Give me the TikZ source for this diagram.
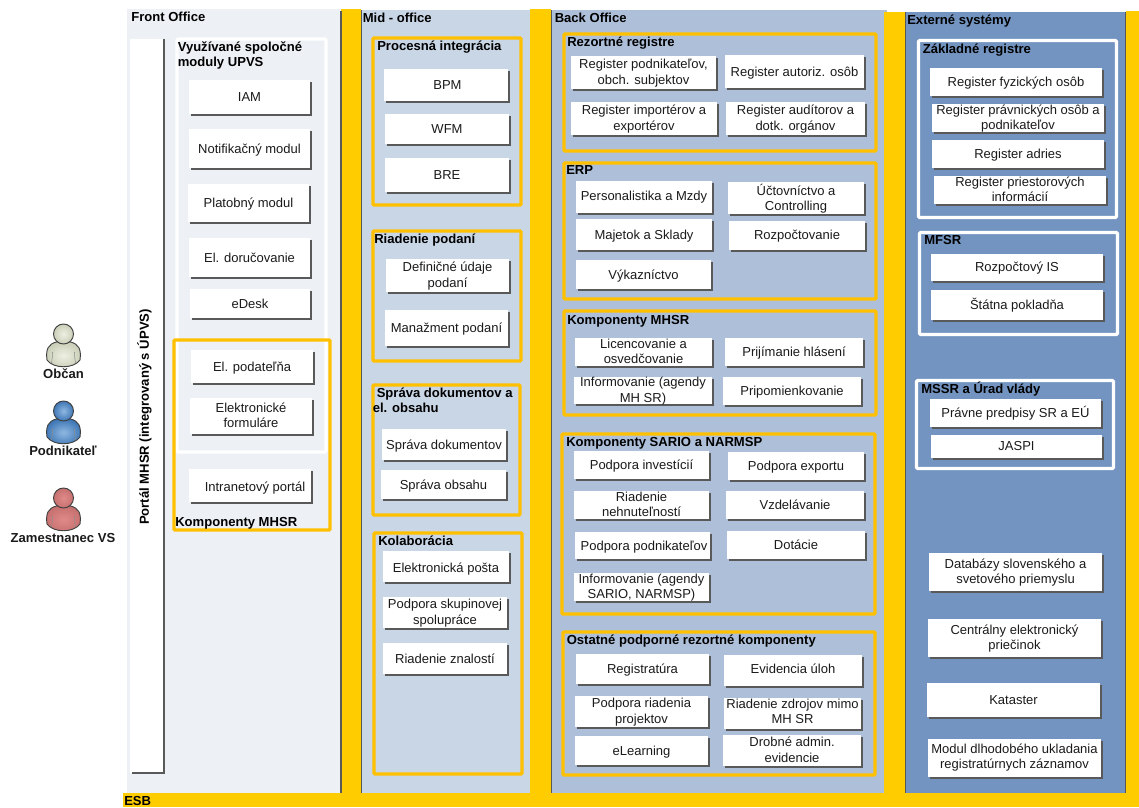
\documentclass[tikz,border=0pt]{standalone}
\usepackage{fontspec}
\setmainfont{Liberation Sans}
\definecolor{pfront}{HTML}{EDF0F5}
\definecolor{pmid}{HTML}{C9D6E6}
\definecolor{pback}{HTML}{AEC0D9}
\definecolor{pext}{HTML}{7394C0}
\definecolor{barcol}{HTML}{FFCC00}
\definecolor{yframe}{HTML}{FFC000}
\definecolor{shad}{HTML}{595959}
\definecolor{inktxt}{HTML}{1A1A1A}
\definecolor{obcin}{HTML}{EEF0E2}
\definecolor{obcout}{HTML}{C9CFB8}
\definecolor{podin}{HTML}{8FB8E2}
\definecolor{podout}{HTML}{3F77B5}
\definecolor{zamin}{HTML}{E08A8A}
\definecolor{zamout}{HTML}{C77070}
\tikzset{
  sepline/.style={shad,line width=1.1pt},
  frameY/.style={draw=yframe,line width=2.6pt,rounded corners=0.8pt},
  frameW/.style={draw=white,line width=2.3pt,rounded corners=0.8pt},
  boxst/.style={fill=white,draw=none,inner sep=0pt,outer sep=0pt},
  boxshadow/.style={shad,line width=1.2pt},
  boxtxt/.style={inner sep=0pt,align=center,text=inktxt,font=\fontsize{9.75pt}{11.6pt}\selectfont,execute at begin node=\strut,execute at end node=\strut},
  ttl/.style={inner sep=0pt,align=left,anchor=west,yshift=-1.4pt,text=black,font=\fontsize{9.8pt}{11.3pt}\selectfont\bfseries,execute at begin node=\strut,execute at end node=\strut},
  actorlbl/.style={inner sep=0pt,yshift=-1.1pt,text=inktxt,font=\fontsize{9.8pt}{11.3pt}\selectfont\bfseries,execute at begin node=\strut,execute at end node=\strut}
}
% \bx[dx,dy]{name}{x0}{y0}{x1}{y1}{text}
\newcommand{\bx}[7][0,0]{%
  \node[boxst,minimum width={(#5-#3)*0.75pt},minimum height={(#6-#4)*0.75pt}] (#2) at ({(#3+#5)/2},{(#4+#6)/2}) {};
  \draw[boxshadow] ([xshift=1.5pt,yshift=-0.6pt]#2.south west) -- ([xshift=0.6pt,yshift=-0.6pt]#2.south east) -- ([xshift=0.6pt,yshift=-1.5pt]#2.north east);
  \node[boxtxt] (#2-t) at ([shift={(#1)},yshift=-1.1pt]#2.center) {#7};
}
% \person{cx}{cy}{light}{mid}
\newcommand{\person}[4]{%
  \begin{scope}[shift={(#1,#2)}]
    \path[draw=black!75,line width=0.7pt,inner color=#3,outer color=#4]
      (-16.5,26) .. controls (-18,15) and (-15,10) .. (-7,8) -- (7,8) .. controls (15,10) and (18,15) .. (16.5,26) .. controls (10,35) and (-10,35) .. (-16.5,26) -- cycle;
    \draw[black!45,line width=0.4pt] (-11,18) .. controls (-11,22) .. (-12,29);
    \draw[black!45,line width=0.4pt] (11,18) .. controls (11,22) .. (12,29);
    \path[draw=black!75,line width=0.7pt,inner color=#3,outer color=#4] (0,0) circle [radius=10];
  \end{scope}
}
\begin{document}
\begin{tikzpicture}[x=0.75pt,y=-0.75pt]
\useasboundingbox (0,0) rectangle (1139,807);
% panels
\fill[pfront] (127,9) rectangle (341,793);
\fill[pmid] (361,10) rectangle (530,793);
\fill[pback] (551,10) rectangle (887,793);
\fill[pext] (905,12) rectangle (1126,793);
% yellow columns
\fill[barcol] (341,9) rectangle (361,793);
\fill[barcol] (530,9) rectangle (551,793);
\fill[barcol] (884,12) rectangle (905,793);
\fill[barcol] (1126,11) rectangle (1139,793);
\fill[barcol] (123,793) rectangle (1139,807);
% separator lines
\draw[sepline] (341,11) -- (341,793);
\draw[shad,line width=0.6pt] (361.3,10) -- (361.3,793);
\draw[sepline] (551.7,10) -- (551.7,793);
\draw[sepline] (905.5,12) -- (905.5,793);
\draw[sepline] (1125.7,12) -- (1125.7,793);
% portal strip
\node[boxst,minimum width={34*0.75pt},minimum height={734*0.75pt}] (portal) at (147,406) {};
\draw[shad,line width=1.3pt] (portal.north east) -- ([yshift=-0.2pt]portal.south east) -- ([xshift=1.5pt,yshift=-0.2pt]portal.south west);
\node[rotate=90,ttl,anchor=center] (portaltxt) at (143.5,417) {Portál MHSR (integrovaný s ÚPVS)};
% group frames
\draw[frameW] (177,39) rectangle (326,452);
\draw[frameY] (174,340) rectangle (330,530);
\draw[frameY] (373,38) rectangle (521,205);
\draw[frameY] (373,231) rectangle (521,361);
\draw[frameY] (373,385) rectangle (520,515);
\draw[frameY] (374,533) rectangle (522,774);
\draw[frameY] (564,34) rectangle (876,151);
\draw[frameY] (564,163) rectangle (876,299);
\draw[frameY] (564,311) rectangle (876,415);
\draw[frameY] (562,434) rectangle (875,614);
\draw[frameY] (563,632) rectangle (875,775);
\draw[frameW] (918.5,40.5) rectangle (1116.5,217.5);
\draw[frameW] (919.5,232.5) rectangle (1117.5,334.5);
\draw[frameW] (916.5,380.5) rectangle (1113.5,468.5);
% titles
\node[ttl] (tfront) at (131,16.5) {Front Office};
\node[ttl] (tupvs) at (177.5,54.5) {Využívané spoločné\\moduly UPVS};
\node[ttl] (tkomp1) at (175,521.5) {Komponenty MHSR};
\node[ttl] (tmid) at (362.5,18) {Mid - office};
\node[ttl] (tproc) at (377,45.5) {Procesná integrácia};
\node[ttl] (trp) at (374,239) {Riadenie podaní};
\node[ttl] (tsd) at (372.5,401) {\hspace*{3pt}Správa dokumentov a\\el. obsahu};
\node[ttl] (tkol) at (378,540.5) {Kolaborácia};
\node[ttl] (tback) at (554.5,17.5) {Back Office};
\node[ttl] (trez) at (567,41.5) {Rezortné registre};
\node[ttl] (terp) at (566,170) {ERP};
\node[ttl] (tkomp2) at (567,319.5) {Komponenty MHSR};
\node[ttl] (tsario) at (566,441.5) {Komponenty SARIO a NARMSP};
\node[ttl] (tost) at (566.5,639.5) {Ostatné podporné rezortné komponenty};
\node[ttl] (textern) at (907,20) {Externé systémy};
\node[ttl] (tzak) at (922.5,48.5) {Základné registre};
\node[ttl] (tmfsr) at (924,240) {MFSR};
\node[ttl] (tmssr) at (921,388.5) {MSSR a Úrad vlády};
\node[ttl] (tesb) at (124,801) {ESB};
% front office boxes
\bx{iam}{189}{80}{310}{114}{IAM}
\bx{notif}{189}{129}{310}{168}{Notifikačný modul}
\bx{plat}{188}{184}{309}{222}{Platobný modul}
\bx{doruc}{189}{238}{310}{277}{El. doručovanie}
\bx{edesk}{190}{289}{310}{318}{eDesk}
\bx{podat}{191}{350}{313}{383}{El. podateľňa}
\bx{form}{190}{398}{312}{434}{Elektronické\\formuláre}
\bx[3.75pt,-1.1pt]{intra}{189}{469}{311}{502}{Intranetový portál}
% mid office boxes
\bx[1.1pt,0]{bpm}{384}{69}{508}{101}{BPM}
\bx{wfm}{385}{114}{509}{144}{WFM}
\bx{bre}{385}{158}{509}{192}{BRE}
\bx{defin}{386}{259}{509}{292}{Definičné údaje\\podaní}
\bx{manaz}{385}{310}{508}{346}{Manažment podaní}
\bx{sdok}{382}{429}{506}{460}{Správa dokumentov}
\bx{sobs}{381}{470}{506}{499}{Správa obsahu}
\bx[0,-0.75pt]{epost}{383}{551}{509}{582}{Elektronická pošta}
\bx{skup}{383}{597}{507}{628}{Podpora skupinovej\\spolupráce}
\bx{znal}{383}{643}{507}{674}{Riadenie znalostí}
% back office boxes
\bx{rpodn}{571}{56}{716}{89}{Register podnikateľov,\\obch. subjektov}
\bx{rauto}{725}{55}{864}{88}{Register autoriz. osôb}
\bx{rimp}{571}{102}{717}{135}{Register importérov a\\exportérov}
\bx{raud}{726}{102}{865}{135}{Register audítorov a\\dotk. orgánov}
\bx[0,0.75pt]{pers}{576}{181}{712}{213}{Personalistika a Mzdy}
\bx{uct}{728}{182}{864}{214}{Účtovníctvo a\\Controlling}
\bx{maj}{576}{219}{712}{250}{Majetok a Sklady}
\bx[0,0.75pt]{rozp}{729}{221}{865}{250}{Rozpočtovanie}
\bx{vyk}{576}{260}{711}{289}{Výkazníctvo}
\bx{lic}{575}{338}{712}{366}{Licencovanie a\\osvedčovanie}
\bx{prij}{725}{338}{863}{366}{Prijímanie hlásení}
\bx{inf1}{574}{377}{712}{404}{Informovanie (agendy\\MH SR)}
\bx{prip}{723}{377}{861}{405}{Pripomienkovanie}
\bx{pinv}{574}{451}{709}{479}{Podpora investícií}
\bx{pexp}{728}{452}{864}{480}{Podpora exportu}
\bx{rneh}{574}{491}{709}{519}{Riadenie\\nehnuteľností}
\bx{vzd}{726}{491}{864}{519}{Vzdelávanie}
\bx[1.1pt,0]{ppod}{575}{532}{710}{559}{Podpora podnikateľov}
\bx{dot}{727}{531}{865}{559}{Dotácie}
\bx{inf2}{574}{573}{709}{601}{Informovanie (agendy\\SARIO, NARMSP)}
\bx{regs}{576}{654}{709}{684}{Registratúra}
\bx[0,1.1pt]{evid}{724}{655}{862}{686}{Evidencia úloh}
\bx{priad}{575}{696}{708}{727}{Podpora riadenia\\projektov}
\bx[0,1.1pt]{rzdr}{724}{698}{861}{729}{Riadenie zdrojov mimo\\MH SR}
\bx{elearn}{575}{736}{708}{765}{eLearning}
\bx{drob}{723}{735}{861}{766}{Drobné admin.\\evidencie}
% external boxes
\bx{rfyz}{930}{68}{1102}{96}{Register fyzických osôb}
\bx{rprav}{932}{104}{1104}{132}{Register právnických osôb a\\podnikateľov}
\bx{radr}{932}{140}{1104}{168}{Register adries}
\bx{rpri}{934}{176}{1106}{204}{Register priestorových\\informácií}
\bx[0,0.75pt]{ris}{931}{254}{1103}{281}{Rozpočtový IS}
\bx{stat}{931}{290}{1103}{320}{Štátna pokladňa}
\bx{pred}{930}{399}{1101}{427}{Právne predpisy SR a EÚ}
\bx[0,0.75pt]{jaspi}{931}{435}{1102}{458}{JASPI}
\bx{datab}{929}{553}{1102}{591}{Databázy slovenského a\\svetového priemyslu}
\bx{centr}{928}{619}{1101}{657}{Centrálny elektronický\\priečinok}
\bx{kat}{927}{683}{1100}{717}{Kataster}
\bx[0,0.75pt]{modul}{928}{739}{1101}{777}{Modul dlhodobého ukladania\\registratúrnych záznamov}
% actors
\person{63.5}{334}{obcin}{obcout}
\person{63.5}{411}{podin}{podout}
\person{63.5}{498}{zamin}{zamout}
\node[actorlbl] (lobc) at (63.5,374) {Občan};
\node[actorlbl] (lpod) at (63,451) {Podnikateľ};
\node[actorlbl] (lzam) at (63,538.5) {Zamestnanec VS};
\end{tikzpicture}
\end{document}
